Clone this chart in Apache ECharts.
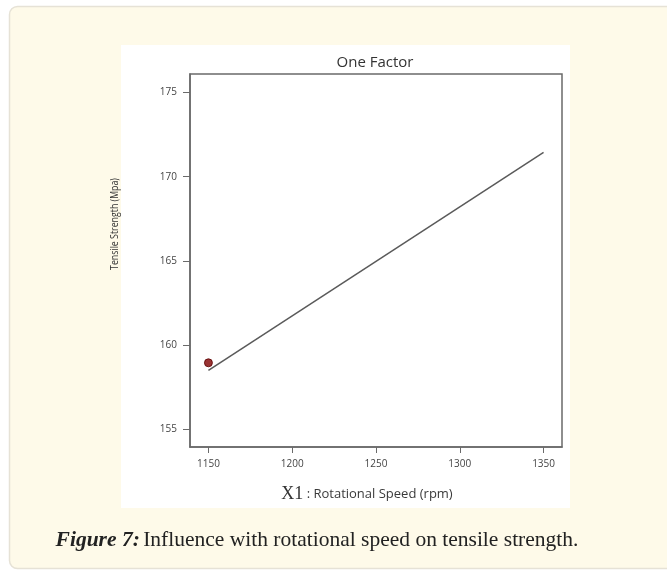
<!DOCTYPE html>
<html>
<head>
    <meta charset="utf-8">
    <title>One Factor</title>
    <script src="https://cdn.jsdelivr.net/npm/echarts@6/dist/echarts.min.js"></script>
    <style>
        html, body { margin: 0; padding: 0; background: #fff; }
    </style>
</head>
<body>
<div id="main" style="width: 667px;height:575px;"></div>

<script type="text/javascript">
    // fitted line (rotational speed -> tensile strength)
    var lineSpeed = [1150, 1350];
    var lineStrength = [158.5, 171.45];
    // design point
    var pointSpeed = [1150];
    var pointStrength = [158.95];
    // tick labels
    var xTicks = [1150, 1200, 1250, 1300, 1350];
    var yTicks = [155, 160, 165, 170, 175];

    var lineData = [];
    for (var i = 0; i < lineSpeed.length; i++) {
        lineData.push([lineSpeed[i], lineStrength[i]]);
    }
    var pointData = [];
    for (var j = 0; j < pointSpeed.length; j++) {
        pointData.push([pointSpeed[j], pointStrength[j]]);
    }

    var myChart = echarts.init(document.getElementById('main'));

    var labelFont = 'Open Sans, DejaVu Sans, sans-serif';

    var option = {
        animation: false,
        backgroundColor: '#fff',
        graphic: [
            {
                type: 'rect', z: -10, silent: true,
                shape: { x: 9.5, y: 6.5, width: 670, height: 562, r: 8 },
                style: { fill: '#fefae9', stroke: '#e6e2d6', lineWidth: 1.5 }
            },
            {
                type: 'rect', z: -9, silent: true,
                shape: { x: 121, y: 45, width: 449, height: 463 },
                style: { fill: '#ffffff' }
            },
            {
                type: 'text', silent: true,
                x: 375, y: 63,
                style: {
                    text: 'One Factor',
                    align: 'center', verticalAlign: 'middle',
                    font: '15px ' + labelFont, fill: '#333'
                }
            },
            {
                // y axis title, narrow like the original
                type: 'text', silent: true,
                x: 115, y: 224, rotation: Math.PI / 2, scaleX: 0.8,
                style: {
                    text: 'Tensile Strength (Mpa)',
                    align: 'center', verticalAlign: 'middle',
                    font: '11px ' + labelFont, fill: '#333'
                }
            },
            {
                type: 'text', silent: true,
                x: 367, y: 494,
                style: {
                    text: '{a|X1} {b|: Rotational Speed (rpm)}',
                    align: 'center', verticalAlign: 'middle',
                    rich: {
                        a: { fontFamily: 'Liberation Serif, serif', fontSize: 18, fill: '#333' },
                        b: { fontFamily: labelFont, fontSize: 13, fill: '#3a3a3a' }
                    }
                }
            },
            {
                type: 'text', silent: true,
                x: 317, y: 540,
                style: {
                    text: '{a|Figure 7:} {b|Influence with rotational speed on tensile strength.}',
                    align: 'center', verticalAlign: 'middle',
                    rich: {
                        a: { fontFamily: 'Liberation Serif, serif', fontSize: 21.5, fontWeight: 'bold', fontStyle: 'italic', fill: '#222' },
                        b: { fontFamily: 'Liberation Serif, serif', fontSize: 21.5, fill: '#222' }
                    }
                }
            }
        ],
        grid: {
            left: 190, right: 105, top: 74, bottom: 128,
            show: true, borderColor: '#6a6a6a', borderWidth: 1.5,
            backgroundColor: 'transparent'
        },
        xAxis: {
            type: 'value',
            min: 1139, max: 1361,
            splitLine: { show: false },
            axisLine: { show: true, onZero: false, lineStyle: { color: '#6a6a6a', width: 1.5 } },
            axisTick: { show: true, length: 6, customValues: xTicks, lineStyle: { color: '#6a6a6a' } },
            axisLabel: {
                customValues: xTicks, margin: 12,
                formatter: function (v) { return String(v); },
                fontFamily: labelFont, fontSize: 10, color: '#444'
            }
        },
        yAxis: {
            type: 'value',
            min: 153.95, max: 176.1,
            splitLine: { show: false },
            axisLine: { show: true, onZero: false, lineStyle: { color: '#6a6a6a', width: 1.5 } },
            axisTick: { show: true, length: 7, customValues: yTicks, lineStyle: { color: '#6a6a6a' } },
            axisLabel: {
                customValues: yTicks, margin: 13,
                formatter: function (v) { return String(v); },
                fontFamily: labelFont, fontSize: 10, color: '#444'
            }
        },
        series: [
            {
                name: 'Prediction',
                type: 'line',
                data: lineData,
                showSymbol: false,
                lineStyle: { color: '#5a5a5a', width: 1.5 }
            },
            {
                name: 'Design point',
                type: 'scatter',
                data: pointData,
                symbolSize: 8,
                itemStyle: { color: '#800000', borderColor: '#5a0000', borderWidth: 1 }
            }
        ]
    };

    myChart.setOption(option);
</script>
</body>
</html>
